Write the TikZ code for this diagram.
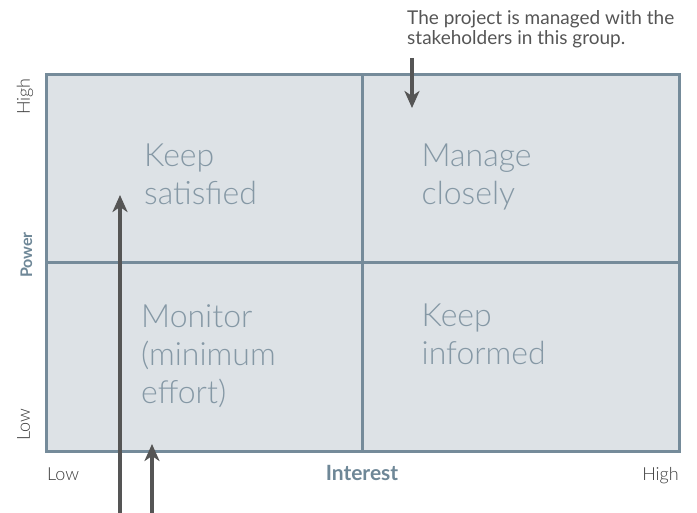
\documentclass[tikz,border=0pt]{standalone}
\usepackage{fontspec}
\setmainfont{Lato}
\newfontfamily\lightfont{Lato Light}
\usepackage{xcolor}
\usetikzlibrary{positioning,arrows.meta}
\definecolor{framecol}{HTML}{758B9A}
\definecolor{quadfill}{HTML}{DDE2E6}
\definecolor{quadtextcol}{HTML}{8598A5}
\definecolor{arrowcol}{HTML}{555555}
\definecolor{labelcol}{HTML}{3C3C3C}
\definecolor{axiscol}{HTML}{6E8797}
\tikzset{
	axislabel/.style = {
		font=\lightfont\fontsize{18}{20}\selectfont, text=labelcol, inner sep=0pt
	}
}

\begin{document}
\begin{tikzpicture}[
		x=1pt, y=-1pt,
        quad/.style = {rectangle, draw=framecol, fill=quadfill, line width=3pt,
                       minimum width=316.5pt, minimum height=188pt, inner sep=0pt, outer sep=0pt},
        quadtext/.style = {font=\lightfont\fontsize{32}{38}\selectfont, text=quadtextcol,
                           align=left, inner sep=0pt},
        axisname/.style = {font=\bfseries\fontsize{21}{23}\selectfont, text=axiscol, inner sep=0pt},
        pointer/.style = {draw=arrowcol, line width=3.5pt,
                          -{Stealth[length=17pt, width=15pt, inset=5pt]}}
    ]
    \useasboundingbox (0,0) rectangle (697,513);
    %\draw[step=50pt,gray,very thin] (0,0) grid (697,513);

    \node[quad, anchor=north west] (q1) at (46,75) {};
    \node[quad, right = 0pt of q1] (q2) {};
    \node[quad, below = 0pt of q1] (q3) {};
    \node[quad, right = 0pt of q3] (q4) {};

    \node[quadtext, below right = 69pt and 98pt of q1.north west] (satisfied) {Keep\\satisfied};
    \node[quadtext, below right = 69pt and 59pt of q2.north west] (closely) {Manage\\closely};
    \node[quadtext, below right = 41pt and 95pt of q3.north west] (monitor) {Monitor\\(minimum\\effort)};
    \node[quadtext, below right = 41pt and 59pt of q4.north west] (informed) {Keep\\informed};

    % axes
    \node[axislabel, anchor=base west] (xlow) at (47,480) {Low};
    \node[axisname, anchor=base] (xname) at (362,480) {Interest};
    \node[axislabel, anchor=base east] (xhigh) at (679,480) {High};
    \node[axislabel, rotate=90, anchor=base east] (yhigh) at (30,78) {High};
    \node[axisname, font=\bfseries\fontsize{16}{18}\selectfont, rotate=90, anchor=base] (yname) at (32,255) {Power};
    \node[axislabel, rotate=90, anchor=base west] (ylow) at (30,441) {Low};

    \node[axislabel, font=\fontsize{19}{20}\selectfont, text=arrowcol, align=left, anchor=north west] (note) at (407,10)
        {The project is managed with the\\stakeholders in this group.};

    \coordinate (notetail) at (412,58);
    \coordinate (notetip) at (412,108);
    \coordinate (longtail) at (120,513);
    \coordinate (longtip) at (120,195);
    \coordinate (shorttail) at (152,513);
    \coordinate (shorttip) at (152,444);

    \draw[pointer] (notetail) -- (notetip);
    \draw[pointer] (longtail) -- (longtip);
    \draw[pointer] (shorttail) -- (shorttip);

\end{tikzpicture}
\end{document}
